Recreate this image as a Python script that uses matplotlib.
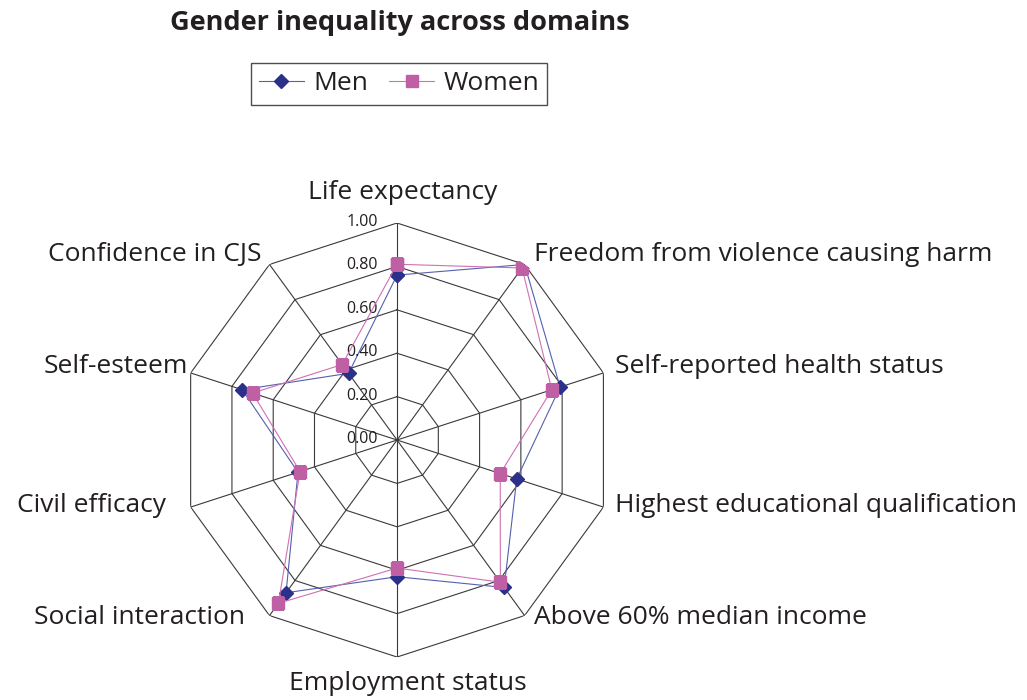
import numpy as np
import matplotlib.pyplot as plt

categories = [
    "Life expectancy",
    "Freedom from violence causing harm",
    "Self-reported health status",
    "Highest educational qualification",
    "Above 60% median income",
    "Employment status",
    "Social interaction",
    "Civil efficacy",
    "Self-esteem",
    "Confidence in CJS",
]

men = [0.76, 1.00, 0.79, 0.58, 0.84, 0.63, 0.87, 0.48, 0.75, 0.38]
women = [0.81, 0.98, 0.75, 0.50, 0.81, 0.59, 0.93, 0.47, 0.70, 0.43]

ring_levels = [0.2, 0.4, 0.6, 0.8, 1.0]
tick_labels = ["0.00", "0.20", "0.40", "0.60", "0.80", "1.00"]

# label offsets in pixels from each outer vertex, with alignment
label_offsets = [
    (6, 31, "center"),
    (9, 10, "left"),
    (12, 6, "left"),
    (12, 2, "left"),
    (9, -2, "left"),
    (11, -26, "center"),
    (-24, -2, "right"),
    (-25, 2, "right"),
    (-3, 6, "right"),
    (-8, 10, "right"),
]

plt.rcParams["font.family"] = ["Open Sans", "DejaVu Sans"]

text_color = "#231f20"
grid_color = "#3a3a3a"
men_color = "#2b3088"
men_line = "#5560b0"
women_color = "#c060a4"
women_line = "#d070b4"

n = len(categories)
angles = np.linspace(0, 2 * np.pi, n, endpoint=False)
closed = np.append(angles, angles[0])

fig = plt.figure(figsize=(10.27, 7.0), dpi=100)

ax = fig.add_axes(
    [0.1753, 0.0614, 0.4226, 0.62],
    projection="polar",
)
ax.set_theta_zero_location("N")
ax.set_theta_direction(-1)
ax.set_ylim(0, 1)
ax.grid(False)
ax.spines["polar"].set_visible(False)
ax.set_xticks([])
ax.set_yticks([])
ax.patch.set_visible(False)

# decagon rings
for level in ring_levels:
    ax.plot(
        closed,
        [level] * (n + 1),
        color=grid_color,
        linewidth=0.8,
        zorder=1,
    )

# spokes
for angle in angles:
    ax.plot(
        [angle, angle],
        [0, 1],
        color=grid_color,
        linewidth=0.8,
        zorder=1,
    )

ax.plot(
    closed,
    men + men[:1],
    color=men_line,
    linewidth=0.8,
    marker="D",
    markersize=7,
    markerfacecolor=men_color,
    markeredgecolor=men_color,
    label="Men",
    zorder=3,
)

ax.plot(
    closed,
    women + women[:1],
    color=women_line,
    linewidth=0.8,
    marker="s",
    markersize=8,
    markerfacecolor=women_color,
    markeredgecolor=women_color,
    label="Women",
    zorder=4,
)

# radial tick labels
for value, text in zip([0.0] + ring_levels, tick_labels):
    ax.annotate(
        text,
        xy=(0, value),
        xytext=(-19, 1),
        textcoords="offset pixels",
        ha="right",
        va="center",
        fontsize=11.5,
        color=text_color,
    )

# category labels
for angle, label, (dx, dy, ha) in zip(angles, categories, label_offsets):
    ax.annotate(
        label,
        xy=(angle, 1.0),
        xytext=(dx, dy),
        textcoords="offset pixels",
        ha=ha,
        va="center",
        fontsize=19,
        color=text_color,
        annotation_clip=False,
    )

fig.text(
    400 / 1027,
    1 - 23 / 700,
    "Gender inequality across domains",
    ha="center",
    va="center",
    fontsize=19.5,
    fontweight="bold",
    color=text_color,
)

legend = fig.legend(
    loc="center",
    bbox_to_anchor=(399 / 1027, 1 - 84 / 700),
    ncol=2,
    fontsize=19,
    frameon=True,
    fancybox=False,
    handlelength=1.7,
    columnspacing=0.8,
    handletextpad=0.35,
    borderpad=0.32,
    borderaxespad=0,
    labelcolor=text_color,
)
legend.get_frame().set_edgecolor("#222222")
legend.get_frame().set_linewidth(1.0)

fig.savefig("out.png", dpi=100)
